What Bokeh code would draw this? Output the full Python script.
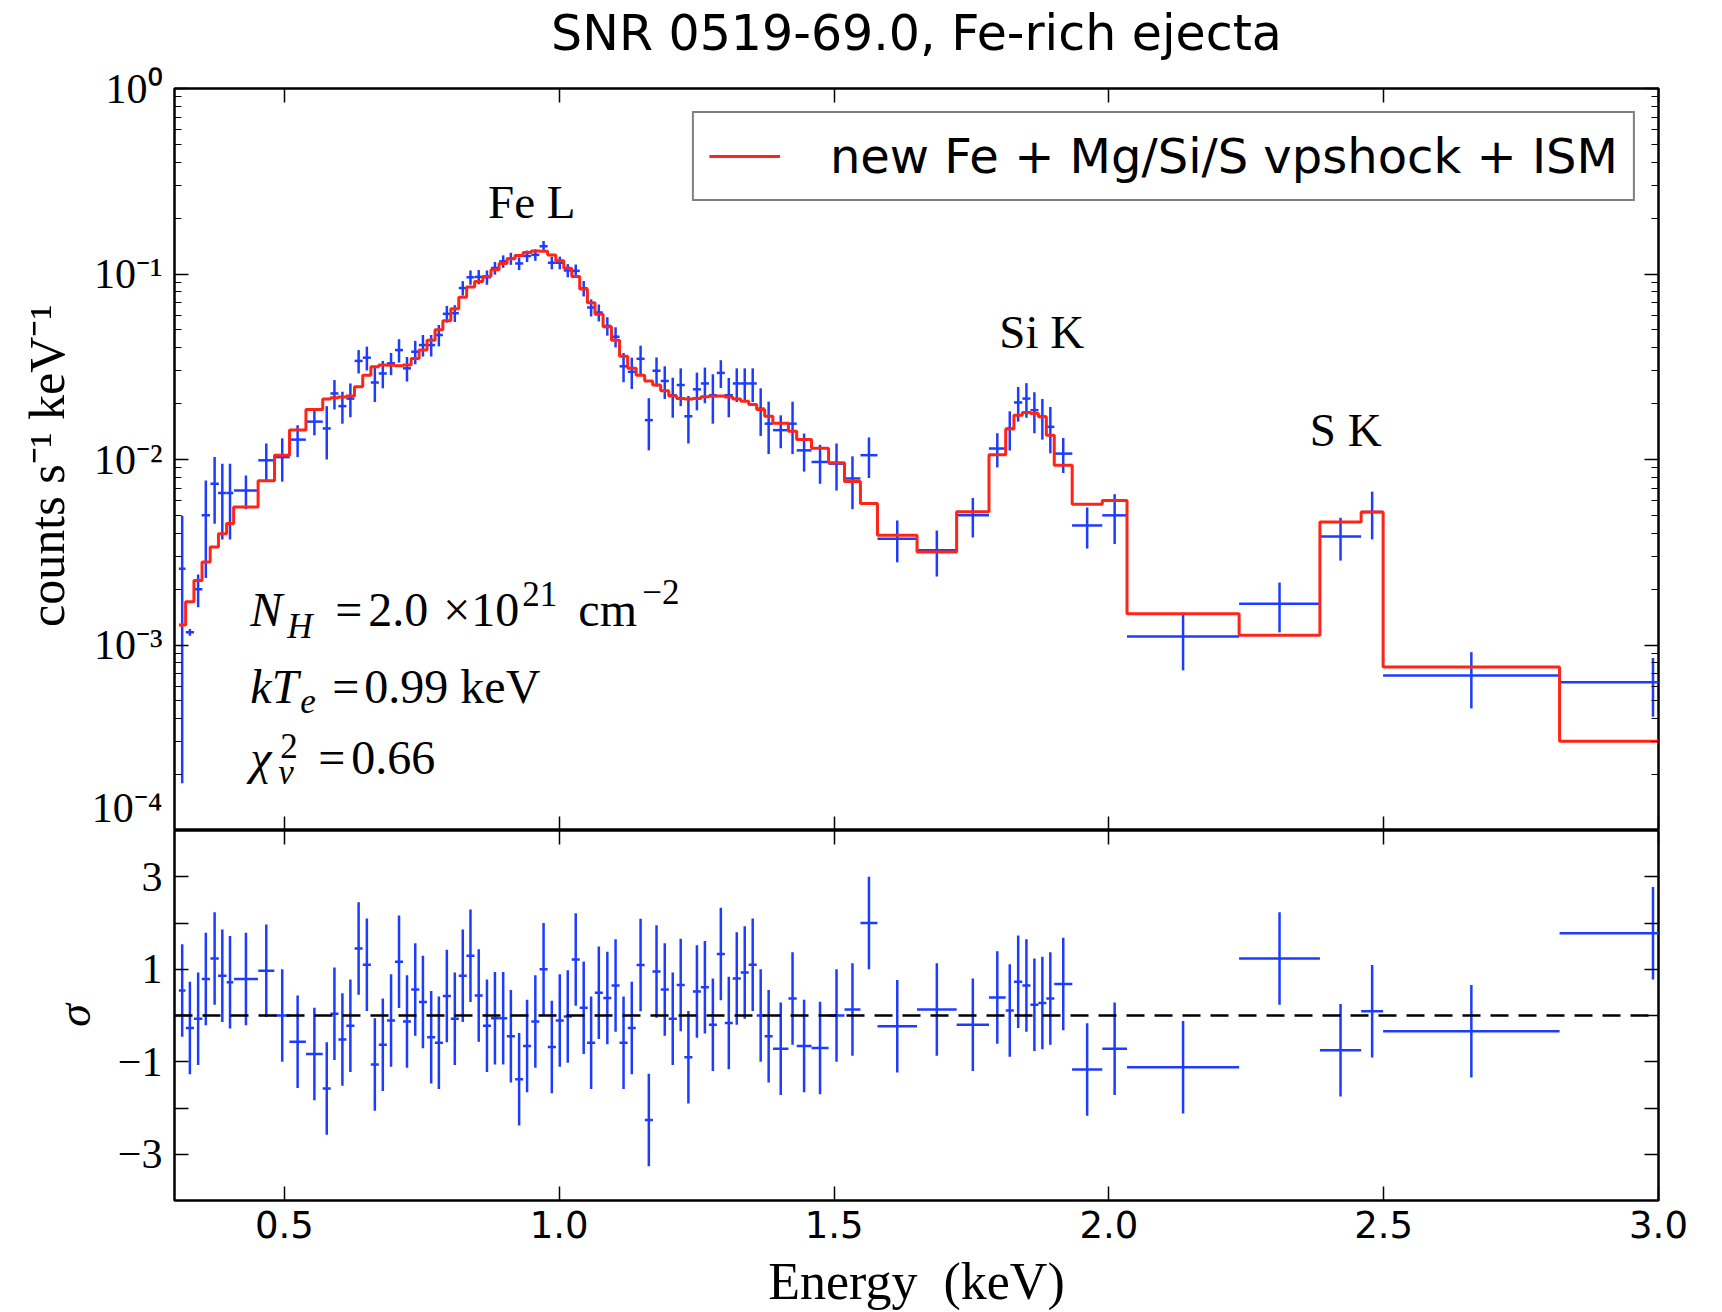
from bokeh.plotting import figure
from bokeh.layouts import column
from bokeh.models import (FixedTicker, LogAxis, LinearAxis, Span, Label, Legend,
                          LegendItem, CustomJSTickFormatter, Range1d, ColumnDataSource)
from bokeh.embed import file_html
from bokeh.resources import INLINE

# ---------------- data ----------------
title_text = "SNR 0519-69.0, Fe-rich ejecta"
legend_text = "new Fe + Mg/Si/S vpshock + ISM"

energy = [0.314, 0.328, 0.343, 0.357, 0.373, 0.387, 0.401, 0.430, 0.467, 0.496, 0.524, 0.5545, 0.577,
          0.591, 0.6055, 0.620, 0.635, 0.650, 0.6645, 0.679, 0.694, 0.7085, 0.723,
          0.738, 0.752, 0.767, 0.781, 0.7955, 0.810, 0.8245, 0.8385, 0.8535, 0.8685,
          0.883, 0.898, 0.912, 0.927, 0.9415, 0.9565, 0.9715, 0.9865, 1.001, 1.0155,
          1.030, 1.0445, 1.058, 1.072, 1.0875, 1.1025, 1.117, 1.132, 1.148, 1.163,
          1.177, 1.192,
          1.2065, 1.221, 1.235, 1.2505, 1.265, 1.2795, 1.294, 1.3085, 1.323, 1.3375, 1.352, 1.3665, 1.381,
          1.403, 1.4245, 1.4455, 1.4745, 1.5045, 1.5335, 1.5635,
          1.615, 1.687, 1.7525,
          1.797, 1.8197, 1.835, 1.850, 1.8645, 1.879, 1.8935, 1.917,
          1.9605, 2.0105, 2.135, 2.3105, 2.4215, 2.479, 2.6595, 2.990]

half_width = [0.006, 0.0075, 0.0077, 0.0075, 0.0076, 0.0077, 0.006, 0.0218, 0.0146, 0.0136, 0.015, 0.0152, 0.0073,
              0.0073, 0.0073, 0.0073, 0.0073, 0.0073, 0.0073, 0.0073, 0.0073, 0.0073, 0.0073,
              0.0073, 0.0073, 0.0073, 0.0073, 0.0073, 0.0073, 0.0073, 0.0073, 0.0073, 0.0073,
              0.0073, 0.0073, 0.0073, 0.0073, 0.0073, 0.0073, 0.0073, 0.0073, 0.0073, 0.0073,
              0.0073, 0.0073, 0.0073, 0.0073, 0.0073, 0.0073, 0.0073, 0.0073, 0.0073, 0.0073,
              0.0073, 0.0073,
              0.0073, 0.0073, 0.0073, 0.0073, 0.0073, 0.0073, 0.0073, 0.0073, 0.0073, 0.0073, 0.0073, 0.0073, 0.0073,
              0.014, 0.0075, 0.0135, 0.0155, 0.0145, 0.0145, 0.0155,
              0.036, 0.036, 0.0295,
              0.0152, 0.0073, 0.0075, 0.0073, 0.0073, 0.0073, 0.0073, 0.0165,
              0.0275, 0.0225, 0.102, 0.0735, 0.0375, 0.020, 0.1605, 0.170]

counts = [2.58e-3, 1.17e-3, 2.0e-3, 5.0e-3, 7.4e-3, 6.6e-3, 6.6e-3, 6.8e-3, 9.9e-3, 1.03e-2, 1.28e-2, 1.6e-2, 1.47e-2,
          0.0227, 0.0194, 0.0213, 0.034, 0.0354, 0.026, 0.0291, 0.033, 0.0389, 0.031,
          0.0381, 0.0414, 0.0414, 0.0469, 0.061, 0.0615, 0.084, 0.096, 0.0965, 0.096,
          0.1077, 0.117, 0.121, 0.114, 0.125, 0.1268, 0.141, 0.115, 0.115, 0.1045,
          0.104, 0.0837, 0.066, 0.062, 0.0525, 0.0459, 0.0318, 0.0297, 0.0349, 0.0163,
          0.0301, 0.0265,
          0.0222, 0.0252, 0.0171, 0.0239, 0.0257, 0.0222, 0.0293, 0.0222, 0.0257, 0.0257, 0.0257, 0.0188, 0.0156,
          0.0144, 0.0156, 0.0112, 0.0097, 0.0095, 0.0079, 0.01055,
          3.74e-3, 3.24e-3, 5.0e-3,
          1.146e-2, 1.468e-2, 2.03e-2, 2.13e-2, 1.845e-2, 1.70e-2, 1.50e-2, 1.076e-2,
          4.41e-3, 5.0e-3, 1.11e-3, 1.67e-3, 3.85e-3, 5.21e-3, 6.85e-4, 6.3e-4]

counts_err = [2.4e-3, 0.05e-3, 0.4e-3, 2.7e-3, 2.9e-3, 2.9e-3, 2.9e-3, 1.4e-3, 2.3e-3, 2.7e-3, 2.5e-3, 2.5e-3, 4.7e-3,
              0.0041, 0.0038, 0.0044, 0.0049, 0.0052, 0.0056, 0.0049, 0.0045, 0.0056, 0.0047,
              0.0055, 0.0055, 0.0055, 0.0062, 0.0063, 0.0064, 0.0075, 0.0085, 0.0085, 0.0085,
              0.0085, 0.009, 0.009, 0.009, 0.009, 0.009, 0.0095, 0.009, 0.009, 0.0085,
              0.0085, 0.008, 0.007, 0.0065, 0.006, 0.0057, 0.0057, 0.0057, 0.0062, 0.0051,
              0.0054, 0.0053,
              0.0054, 0.0058, 0.0049, 0.0055, 0.0056, 0.0066, 0.0050, 0.0053, 0.0053, 0.0053, 0.0053, 0.0054, 0.0049,
              0.0029, 0.0049, 0.0026, 0.0023, 0.0027, 0.0025, 0.0026,
              0.95e-3, 0.9e-3, 1.2e-3,
              2.4e-3, 3.5e-3, 4.3e-3, 4.5e-3, 4.6e-3, 4.2e-3, 4.2e-3, 2.3e-3,
              1.1e-3, 1.5e-3, 0.38e-3, 0.5e-3, 1.0e-3, 1.5e-3, 0.23e-3, 0.22e-3]

model = [1.28e-3, 1.71e-3, 2.23e-3, 2.8e-3, 3.38e-3, 3.98e-3, 4.52e-3, 5.55e-3, 7.67e-3, 1.055e-2, 1.44e-2, 1.86e-2, 2.12e-2,
         0.0215, 0.0217, 0.022, 0.0247, 0.0285, 0.0316, 0.0323, 0.0322, 0.0320, 0.0323,
         0.035, 0.0389, 0.044, 0.050, 0.056, 0.065, 0.075, 0.085, 0.091, 0.097,
         0.1055, 0.114, 0.121, 0.126, 0.1305, 0.133, 0.1325, 0.1265, 0.118, 0.1075,
         0.097, 0.083, 0.070, 0.0607, 0.052, 0.044, 0.036, 0.031, 0.0285, 0.0265,
         0.0252, 0.0235,
         0.0220, 0.0213, 0.0212, 0.0213, 0.0218, 0.0219, 0.0220, 0.0217, 0.0212, 0.0206, 0.0198, 0.0186, 0.0171,
         0.0157, 0.0142, 0.0128, 0.0115, 0.0096, 0.0076, 0.0058,
         3.9e-3, 3.17e-3, 5.22e-3,
         1.06e-2, 1.46e-2, 1.73e-2, 1.79e-2, 1.77e-2, 1.70e-2, 1.35e-2, 9.3e-3,
         5.74e-3, 6.02e-3, 1.476e-3, 1.127e-3, 4.6e-3, 5.21e-3, 7.6e-4, 3.03e-4]

residual = [0.54, -0.27, -0.07, 0.79, 1.23, 0.86, 0.72, 0.79, 0.97, 0.0, -0.57, -0.83, -1.58,
            0.04, -0.52, -0.22, 1.45, 1.10, -1.06, -0.63, -0.11, 1.16, -0.13,
            0.56, 0.29, -0.47, -0.59, 0.42, -0.07, 0.86, 1.29, 0.43, -0.22,
            -0.06, -0.06, -0.45, -1.38, -0.66, -0.13, 1.0, -0.68, -0.11, -0.02,
            1.21, 0.17, -0.59, 0.49, 0.38, 0.65, -0.59, -0.27, 1.09, -2.26,
            0.95, 0.56,
            -0.07, 0.66, -0.90, 0.52, 0.61, -0.2, 1.33, -0.16, 0.80, 0.93, 1.10, 0.0, -0.45,
            -0.72, 0.37, -0.66, -0.70, 0.0, 0.13, 2.0,
            -0.23, 0.13, -0.2,
            0.39, 0.11, 0.73, 0.65, 0.23, 0.27, 0.37, 0.68,
            -1.17, -0.72, -1.12, 1.23, -0.75, 0.09, -0.34, 1.78]

x_ticks = [0.5, 1.0, 1.5, 2.0, 2.5, 3.0]
x_tick_labels = ["0.5", "1.0", "1.5", "2.0", "2.5", "3.0"]
log_ticks = [1e-4, 1e-3, 1e-2, 1e-1, 1.0]
log_tick_labels = ["10\u207b\u2074", "10\u207b\u00b3", "10\u207b\u00b2", "10\u207b\u00b9", "10\u2070"]
sig_ticks = [-3, -2, -1, 0, 1, 2, 3]
sig_tick_labels = ["\u22123", "", "\u22121", "", "1", "", "3"]

line_labels = [("Fe L", 0.95, 10 ** -0.695), ("Si K", 1.878, 10 ** -1.396), ("S K", 2.431, 10 ** -1.924)]

# ---------------- style ----------------
BLUE = "#1e3cff"
RED = "#ff2418"
SERIF = "Liberation Serif"
SANS = "DejaVu Sans"

n = len(energy)
lo = [e - h for e, h in zip(energy, half_width)]
hi = [e + h for e, h in zip(energy, half_width)]
edges = [lo[0]] + [(hi[i] + lo[i + 1]) / 2 for i in range(n - 1)] + [hi[-1]]
step_x, step_y = [], []
for i in range(n):
    step_x += [edges[i], edges[i + 1]]
    step_y += [model[i], model[i]]

src = ColumnDataSource(dict(
    x=energy, lo=lo, hi=hi, y=counts,
    ylo=[c - e for c, e in zip(counts, counts_err)],
    yhi=[c + e for c, e in zip(counts, counts_err)],
    r=residual,
    rlo=[r - 1 for r in residual],
    rhi=[r + 1 for r in residual],
))

minor_log = [k * 10.0 ** d for d in range(-4, 0) for k in range(2, 10)]


def style_axis(ax, ticker, labels=None, font=SANS, size="37px", standoff=10):
    ax.ticker = ticker
    ax.axis_line_color = None
    ax.major_tick_in = 14
    ax.major_tick_out = 0
    ax.minor_tick_in = 7
    ax.minor_tick_out = 0
    ax.major_tick_line_color = "black"
    ax.minor_tick_line_color = "black"
    ax.major_tick_line_width = 1.5
    ax.minor_tick_line_width = 1.2
    if labels is None:
        ax.formatter = CustomJSTickFormatter(code="return ''")
        ax.major_label_text_font_size = "0px"
        ax.major_label_standoff = 0
    else:
        ax.major_label_overrides = labels
        ax.major_label_text_font = font
        ax.major_label_text_font_size = size
        ax.major_label_text_color = "black"
        ax.major_label_standoff = standoff


def add_text(fig, x, y, text, dx=0, dy=0, size=50, style="normal", align="left", font=SERIF):
    # baseline correction (rendered text sits ~0.33 em lower than the anchor)
    fig.add_layout(Label(x=x, y=y, x_offset=dx, y_offset=dy + 0.33 * size, text=text,
                         text_align=align, text_baseline="alphabetic",
                         text_font=font, text_font_size="%dpx" % size,
                         text_font_style=style, text_color="black"))


# ---------------- title strip ----------------
head = figure(width=1722, height=64, x_range=Range1d(0.3, 3.0), y_range=Range1d(0, 1),
              output_backend="svg", toolbar_location=None, title=title_text,
              min_border_left=174, min_border_right=64, min_border_top=0, min_border_bottom=0)
head.xaxis.visible = False
head.yaxis.visible = False
head.grid.visible = False
head.outline_line_color = None
head.title.text_font = SANS
head.title.text_font_size = "49px"
head.title.text_font_style = "normal"
head.title.text_color = "black"
head.title.align = "center"
head.title.standoff = 4

# ---------------- top panel ----------------
top = figure(width=1722, height=766, x_range=head.x_range, y_range=Range1d(1e-4, 1.0),
             y_axis_type="log", output_backend="svg", toolbar_location=None,
             min_border_left=174, min_border_right=64, min_border_top=24, min_border_bottom=0)
top.grid.visible = False
top.outline_line_color = "black"
top.outline_line_width = 2.5

style_axis(top.xaxis[0], FixedTicker(ticks=x_ticks))
style_axis(top.yaxis[0], FixedTicker(ticks=log_ticks, minor_ticks=minor_log),
           labels=dict(zip(log_ticks, log_tick_labels)), font=SERIF, size="42px", standoff=12)
top.yaxis[0].axis_label = "counts s\u207b\u00b9  keV\u207b\u00b9"
top.yaxis[0].axis_label_text_font = SERIF
top.yaxis[0].axis_label_text_font_size = "50px"
top.yaxis[0].axis_label_text_font_style = "normal"
top.yaxis[0].axis_label_text_color = "black"
top.yaxis[0].axis_label_standoff = 14

ax_r = LogAxis()
style_axis(ax_r, FixedTicker(ticks=log_ticks, minor_ticks=minor_log))
top.add_layout(ax_r, "right")
ax_t = LinearAxis()
style_axis(ax_t, FixedTicker(ticks=x_ticks))
top.add_layout(ax_t, "above")

top.segment(x0="x", y0="ylo", x1="x", y1="yhi", source=src, line_color=BLUE, line_width=2.5)
top.segment(x0="lo", y0="y", x1="hi", y1="y", source=src, line_color=BLUE, line_width=2.5)
model_r = top.line(step_x, step_y, line_color=RED, line_width=3)

legend = Legend(items=[LegendItem(label=legend_text, renderers=[model_r])], location="top_right")
legend.label_text_font = SANS
legend.label_text_font_size = "48px"
legend.label_text_color = "black"
legend.glyph_width = 71
legend.glyph_height = 56
legend.label_height = 56
legend.label_standoff = 50
legend.padding = 15
legend.margin = 23
legend.border_line_color = "black"
legend.border_line_width = 2
legend.background_fill_alpha = 1.0
top.add_layout(legend)

for txt, lx, ly in line_labels:
    add_text(top, lx, ly, txt, size=47, align="center")

x0 = 0.438
y_line1 = 10 ** -2.895
y_line2 = 10 ** -3.31
y_line3 = 10 ** -3.693
BIG = 48
SMALL = 35
pieces = [
    # line 1: N_H = 2.0 x 10^21 cm^-2
    ("N", y_line1, 0, 0, BIG, "italic"),
    ("H", y_line1, 37, -13, SMALL, "italic"),
    ("=", y_line1, 85, 0, BIG, "normal"),
    ("2.0", y_line1, 118, 0, BIG, "normal"),
    ("\u00d7", y_line1, 193, 0, BIG, "normal"),
    ("10", y_line1, 221, 0, BIG, "normal"),
    ("21", y_line1, 272, 20, SMALL, "normal"),
    ("cm", y_line1, 328, 0, BIG, "normal"),
    ("\u22122", y_line1, 392, 22, SMALL, "normal"),
    # line 2: kT_e = 0.99 keV
    ("kT", y_line2, 0, 0, BIG, "italic"),
    ("e", y_line2, 50, -10, SMALL, "italic"),
    ("=", y_line2, 82, 0, BIG, "normal"),
    ("0.99", y_line2, 114, 0, BIG, "normal"),
    ("keV", y_line2, 210, 0, BIG, "normal"),
    # line 3: chi^2_nu = 0.66
    ("\u03c7", y_line3, 0, 0, BIG, "italic"),
    ("2", y_line3, 30, 16, SMALL, "normal"),
    ("\u03bd", y_line3, 28, -10, SMALL, "italic"),
    ("=", y_line3, 68, 0, BIG, "normal"),
    ("0.66", y_line3, 101, 0, BIG, "normal"),
]
for txt, ly, dx, dy, fs, st in pieces:
    add_text(top, x0, ly, txt, dx=dx, dy=dy, size=fs, style=st)

# ---------------- bottom panel ----------------
bot = figure(width=1722, height=482, x_range=head.x_range, y_range=Range1d(-4, 4),
             output_backend="svg", toolbar_location=None,
             min_border_left=174, min_border_right=64, min_border_top=0, min_border_bottom=111)
bot.grid.visible = False
bot.outline_line_color = "black"
bot.outline_line_width = 2.5

style_axis(bot.xaxis[0], FixedTicker(ticks=x_ticks), labels=dict(zip(x_ticks, x_tick_labels)),
           font=SANS, size="37px", standoff=10)
bot.xaxis[0].axis_label = "Energy\u00a0\u00a0(keV)"
bot.xaxis[0].axis_label_text_font = SERIF
bot.xaxis[0].axis_label_text_font_size = "52px"
bot.xaxis[0].axis_label_text_font_style = "normal"
bot.xaxis[0].axis_label_text_color = "black"
bot.xaxis[0].axis_label_standoff = 12

style_axis(bot.yaxis[0], FixedTicker(ticks=sig_ticks), labels=dict(zip(sig_ticks, sig_tick_labels)),
           font=SERIF, size="42px", standoff=12)
bot.yaxis[0].axis_label = "\u03c3"
bot.yaxis[0].axis_label_text_font = SERIF
bot.yaxis[0].axis_label_text_font_size = "46px"
bot.yaxis[0].axis_label_text_font_style = "italic"
bot.yaxis[0].axis_label_text_color = "black"
bot.yaxis[0].axis_label_standoff = 15

bax_r = LinearAxis()
style_axis(bax_r, FixedTicker(ticks=sig_ticks))
bot.add_layout(bax_r, "right")
bax_t = LinearAxis()
style_axis(bax_t, FixedTicker(ticks=x_ticks))
bot.add_layout(bax_t, "above")

bot.add_layout(Span(location=0, dimension="width", line_color="black", line_width=2.5, line_dash="18 10"))
bot.segment(x0="x", y0="rlo", x1="x", y1="rhi", source=src, line_color=BLUE, line_width=2.5)
bot.segment(x0="lo", y0="r", x1="hi", y1="r", source=src, line_color=BLUE, line_width=2.5)

layout = column(head, top, bot, spacing=0)
open("out.html", "w").write(file_html(layout, INLINE))
